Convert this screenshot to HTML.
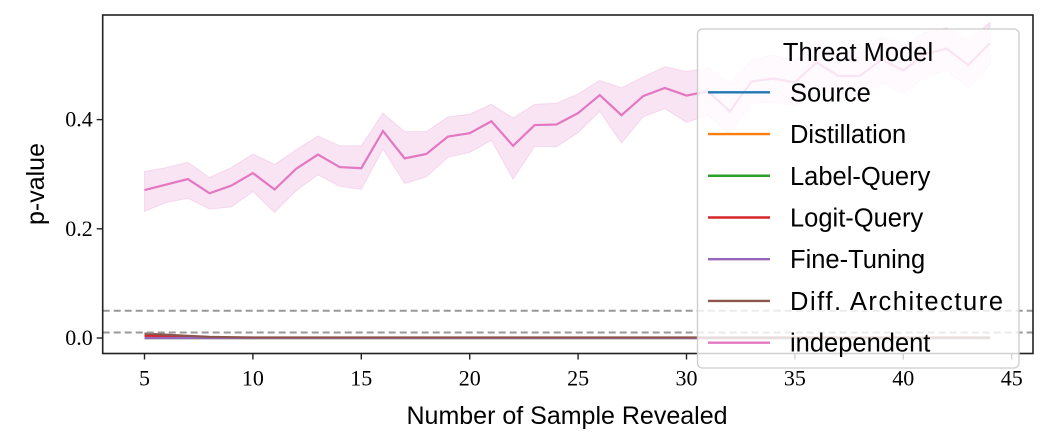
<!DOCTYPE html>
<html><head><meta charset="utf-8"><style>
html,body{margin:0;padding:0;background:#fff;}
svg{display:block;}
.tk{font-family:"Liberation Serif",serif;font-size:22px;fill:#000;}
.lb{font-family:"Liberation Sans",sans-serif;font-size:25px;fill:#000;}
.lg{font-family:"Liberation Sans",sans-serif;font-size:25.5px;fill:#000;}
</style></head><body>
<svg id="chart" width="1048" height="448" xmlns="http://www.w3.org/2000/svg"></svg>
<script>
const xs = [5,6,7,8,9,10,11,12,13,14,15,16,17,18,19,20,21,22,23,24,25,26,27,28,29,30,31,32,33,34,35,36,37,38,39,40,41,42,43,44];
const indepMean = [0.271,0.281,0.291,0.265,0.279,0.302,0.272,0.310,0.336,0.313,0.311,0.379,0.329,0.337,0.369,0.375,0.397,0.352,0.390,0.391,0.412,0.445,0.408,0.443,0.458,0.444,0.452,0.415,0.470,0.475,0.468,0.505,0.480,0.480,0.510,0.490,0.520,0.530,0.500,0.540];
const indepUpper = [0.305,0.312,0.322,0.294,0.312,0.337,0.318,0.345,0.370,0.352,0.352,0.412,0.378,0.378,0.405,0.410,0.428,0.403,0.428,0.430,0.447,0.472,0.458,0.478,0.497,0.488,0.495,0.465,0.510,0.518,0.508,0.545,0.522,0.522,0.552,0.535,0.560,0.568,0.545,0.578];
const indepLower = [0.232,0.248,0.256,0.236,0.240,0.268,0.230,0.270,0.299,0.278,0.272,0.346,0.283,0.295,0.331,0.340,0.362,0.291,0.351,0.350,0.376,0.415,0.357,0.405,0.420,0.395,0.408,0.372,0.430,0.432,0.425,0.462,0.440,0.438,0.468,0.448,0.478,0.490,0.458,0.500];
const brownVals = [0.008,0.006,0.004,0.002,0.0015,0.001,0.001,0.001,0.001,0.001,0.001,0.001,0.001,0.001,0.001,0.001,0.001,0.001,0.001,0.001,0.001,0.001,0.001,0.001,0.001,0.001,0.001,0.001,0.001,0.001,0.001,0.001,0.001,0.001,0.001,0.001,0.001,0.001,0.001,0.001];
const redVals = [0.004,0.003,0.002,0.001,0.001,0.0005,0.0005,0.0005,0.0005,0.0005,0.0005,0.0005,0.0005,0.0005,0.0005,0.0005,0.0005,0.0005,0.0005,0.0005,0.0005,0.0005,0.0005,0.0005,0.0005,0.0005,0.0005,0.0005,0.0005,0.0005,0.0005,0.0005,0.0005,0.0005,0.0005,0.0005,0.0005,0.0005,0.0005,0.0005];
const zeroVals = xs.map(()=>0);
const xTicks = [5,10,15,20,25,30,35,40,45];
const yTicks = [0.0,0.2,0.4];
const yTickLabels = ["0.0","0.2","0.4"];
const thresholds = [0.05,0.01];
const legendLabels = ["Source","Distillation","Label-Query","Logit-Query","Fine-Tuning","Diff. Architecture","independent"];
const legendColors = ["#1f77b4","#ff7f0e","#2ca02c","#d62728","#9467bd","#8c564b","#e377c2"];

const NS="http://www.w3.org/2000/svg";
const svg=document.getElementById('chart');
const L=102.7,R=1033,T=15,B=353.5;
const X=v=>144.5+(v-5)*21.68;
const Y=v=>338-v*546;
function mk(tag,attrs,parent){const e=document.createElementNS(NS,tag);for(const k in attrs)e.setAttribute(k,attrs[k]);(parent||svg).appendChild(e);return e;}

let d='M'+xs.map((x,i)=>X(x)+','+Y(indepUpper[i])).join('L')+'L'+xs.slice().reverse().map((x,j)=>{const i=xs.length-1-j;return X(x)+','+Y(indepLower[i]);}).join('L')+'Z';
const band=mk('path',{d:d,fill:'#e377c2','fill-opacity':0.2,stroke:'#e377c2','stroke-opacity':0.2});



function line(vals,color,name){
  const p=mk('polyline',{points:xs.map((x,i)=>X(x)+','+Y(vals[i])).join(' '),fill:'none',stroke:color,'stroke-width':2.2});
  
  
}
line(zeroVals,'#1f77b4','source-line');
line(zeroVals,'#ff7f0e','distillation-line');
line(zeroVals,'#2ca02c','label-query-line');
line(redVals,'#d62728','logit-query-line');
line(zeroVals,'#9467bd','fine-tuning-line');
line(brownVals,'#8c564b','diff-architecture-line');
line(indepMean,'#e377c2','independent-line');

thresholds.forEach((t,i)=>{
  const l=mk('line',{x1:L,x2:R,y1:Y(t),y2:Y(t),stroke:'#999','stroke-width':2,'stroke-dasharray':'7,4'});
  
  
});

const fr=mk('rect',{x:L,y:T,width:R-L,height:B-T,fill:'none',stroke:'#222','stroke-width':1.6});



xTicks.forEach(v=>{
  mk('line',{x1:X(v),x2:X(v),y1:B,y2:B+6,stroke:'#222','stroke-width':1.4});
  const t=mk('text',{x:X(v),y:B+32,'text-anchor':'middle',class:'tk'});t.textContent=v;
  
  
});
yTicks.forEach((v,i)=>{
  mk('line',{x1:L-6,x2:L,y1:Y(v),y2:Y(v),stroke:'#222','stroke-width':1.4});
  const t=mk('text',{x:L-10,y:Y(v)+7,'text-anchor':'end',class:'tk'});t.textContent=yTickLabels[i];
  
  
});

const xl=mk('text',{x:567,y:424,'text-anchor':'middle',class:'lb'});xl.textContent='Number of Sample Revealed';


const yl=mk('text',{x:0,y:0,'text-anchor':'middle',class:'lb',transform:'translate(44,184) rotate(-90)'});yl.textContent='p-value';



const lg=mk('g',{});


mk('rect',{x:697.5,y:29,width:321.5,height:339,rx:5,fill:'#fff','fill-opacity':0.8,stroke:'#ccc','stroke-width':1.3},lg);
const lt=mk('text',{x:858,y:61,'text-anchor':'middle',class:'lg'},lg);lt.textContent='Threat Model';


legendLabels.forEach((lab,i)=>{
  const y=92.3+i*41.73;
  const g=mk('g',{},lg);
  
  
  mk('line',{x1:708,x2:770,y1:y,y2:y,stroke:legendColors[i],'stroke-width':2.4},g);
  const t=mk('text',{x:790,y:y+9,class:'lg',textLength:lab==='Diff. Architecture'?213:null},g);
  if(lab!=='Diff. Architecture')t.removeAttribute('textLength');
  t.textContent=lab;
});
</script>
</body></html>
